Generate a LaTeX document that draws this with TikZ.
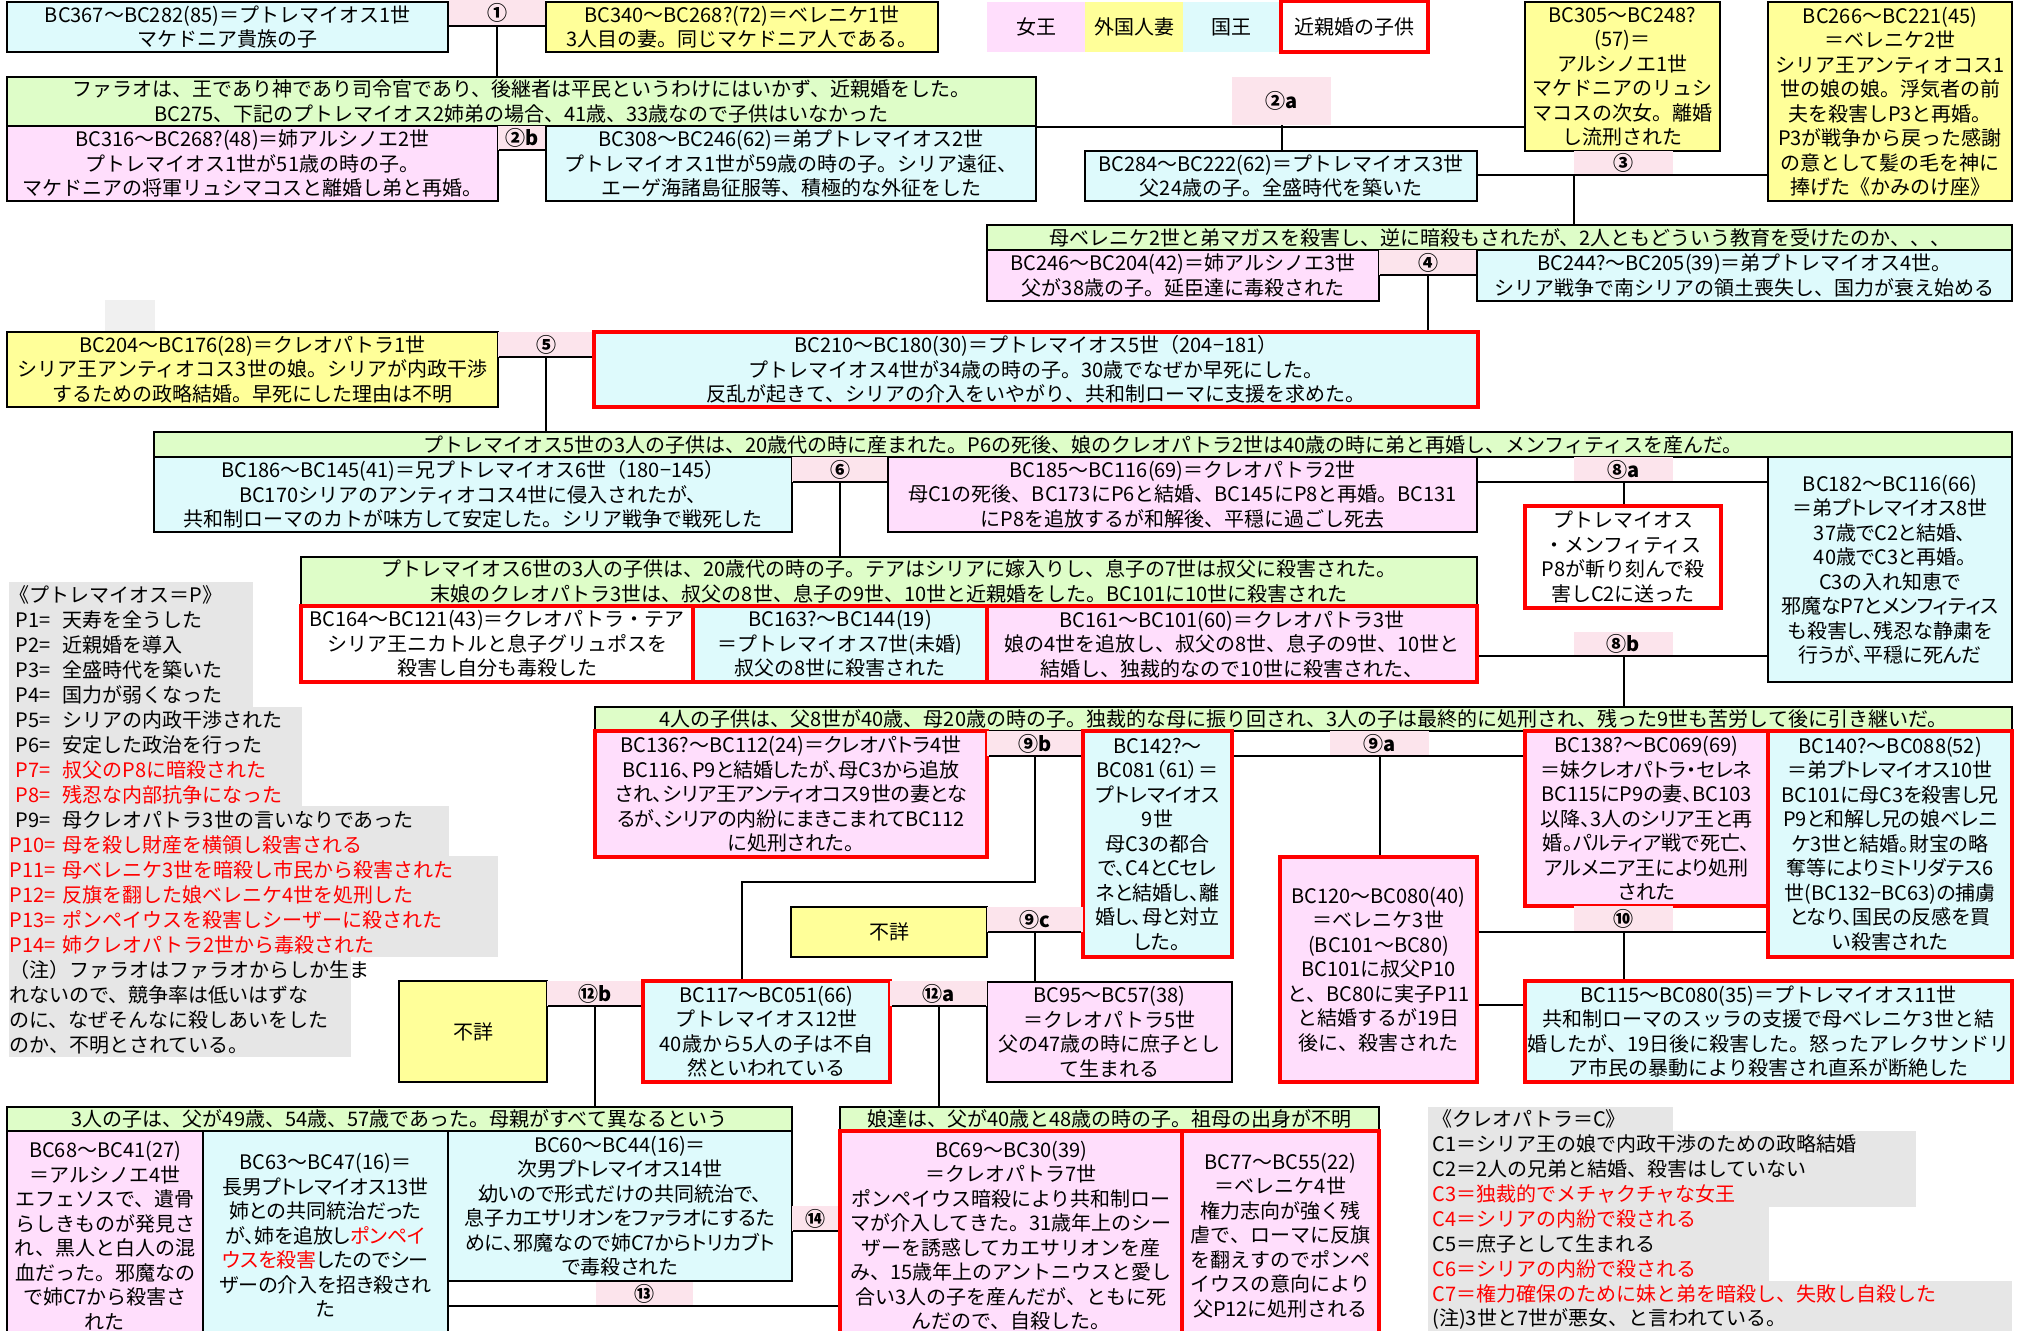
\documentclass[tikz,border=0pt]{standalone}
\usepackage{fontspec}
\setmainfont{Noto Sans CJK JP}
\newfontfamily\pf{Noto Sans CJK JP}[RawFeature=+palt]
\usetikzlibrary{calc}
\definecolor{cy}{RGB}{222,250,252}
\definecolor{pk}{RGB}{255,222,252}
\definecolor{yl}{RGB}{255,255,153}
\definecolor{gr}{RGB}{222,253,200}
\definecolor{lb}{RGB}{252,228,236}
\definecolor{gy}{RGB}{230,230,230}
\definecolor{gl}{RGB}{240,240,240}
\definecolor{rd}{RGB}{255,0,0}
\tikzset{
 base/.style={inner sep=0pt, align=center, font=\fontsize{10}{12.25}\selectfont},
 kbox/.style={base, draw=black, line width=1pt, fill=cy},
 qbox/.style={base, draw=black, line width=1pt, fill=pk},
 wbox/.style={base, draw=black, line width=1pt, fill=yl},
 gbox/.style={base, draw=black, line width=1pt, fill=gr},
 ebox/.style={base, draw=black, line width=1pt, fill=white},
 inc/.style={draw=rd, line width=2pt},
 tight/.style={font=\pf\fontsize{10}{12.25}\selectfont},
 lab/.style={base, fill=lb, font=\bfseries\fontsize{10}{12}\selectfont},
 conn/.style={line width=1pt, draw=black},
 leg/.style={inner sep=0pt, anchor=west, font=\fontsize{10}{12}\selectfont},
}
\newcommand\bx[7]{\node[#2, minimum width={(#5-#3)*0.5pt}, minimum height={(#6-#4)*0.5pt}] (#1) at ({(#3+#5)/2},{(#4+#6)/2}) {#7};}
\begin{document}
\begin{tikzpicture}[x=0.5pt,y=-0.5pt]
\useasboundingbox (0,0) rectangle (2027,1330);
\clip (0,0) rectangle (2027,1330);
% legend backgrounds
\fill[gl] (105,300) rectangle (155,332);
\fill[gy] (9,582) rectangle (253,707);
\fill[gy] (9,707) rectangle (302,806);
\fill[gy] (9,806) rectangle (449,856);
\fill[gy] (9,856) rectangle (498,957);
\fill[gy] (9,957) rectangle (351,1057);
\fill[gy] (1428,1107) rectangle (1673,1131);
\fill[gy] (1428,1131) rectangle (1916,1207);
\fill[gy] (1428,1207) rectangle (1769,1281);
\fill[gy] (1428,1281) rectangle (2012,1335);
% colour legend
\bx{LQ}{base,fill=pk}{987}{2}{1085}{52}{女王}
\bx{LW}{base,fill=yl}{1085}{2}{1183}{52}{外国人妻}
\bx{LK}{base,fill=cy}{1183}{2}{1279}{52}{国王}
\bx{LI}{ebox,inc}{1281}{1}{1428}{52}{近親婚の子供}
% generation 1
\bx{A1}{kbox}{7}{2}{448}{52}{BC367～BC282(85)＝プトレマイオス1世\\マケドニア貴族の子}
\bx{L1}{lab}{449}{0}{545}{26}{①}
\bx{B1}{wbox}{546}{2}{938}{52}{BC340～BC268?(72)＝ベレニケ1世\\3人目の妻。同じマケドニア人である。}
% generation 2
\bx{G1}{gbox}{7}{77}{1036}{126}{ファラオは、王であり神であり司令官であり、後継者は平民というわけにはいかず、近親婚をした。\\BC275、下記のプトレマイオス2姉弟の場合、41歳、33歳なので子供はいなかった}
\bx{Ars2}{qbox}{7}{126}{498}{201}{BC316～BC268?(48)＝姉アルシノエ2世\\プトレマイオス1世が51歳の時の子。\\マケドニアの将軍リュシマコスと離婚し弟と再婚。}
\bx{L2b}{lab}{498}{126}{546}{150}{②b}
\bx{P2}{kbox}{546}{126}{1036}{201}{BC308～BC246(62)＝弟プトレマイオス2世\\プトレマイオス1世が59歳の時の子。シリア遠征、\\エーゲ海諸島征服等、積極的な外征をした}
\bx{L2a}{lab}{1232}{77}{1331}{125}{②a}
\bx{Ars1}{wbox}{1525}{2}{1720}{151}{BC305～BC248?\\(57)＝\\アルシノエ1世\\マケドニアのリュシ\\マコスの次女。離婚\\し流刑された}
% generation 3
\bx{P3}{kbox}{1085}{151}{1477}{201}{BC284～BC222(62)＝プトレマイオス3世\\父24歳の子。全盛時代を築いた}
\bx{L3}{lab}{1574}{151}{1673}{175}{③}
\bx{Ber2}{wbox}{1768}{2}{2012}{201}{BC266～BC221(45)\\＝ベレニケ2世\\シリア王アンティオコス1\\世の娘の娘。浮気者の前\\夫を殺害しP3と再婚。\\P3が戦争から戻った感謝\\の意として髪の毛を神に\\捧げた《かみのけ座》}
% generation 4
\bx{G2}{gbox}{987}{225}{2012}{250}{母ベレニケ2世と弟マガスを殺害し、逆に暗殺もされたが、2人ともどういう教育を受けたのか、、、}
\bx{Ars3}{qbox}{987}{250}{1379}{301}{BC246～BC204(42)＝姉アルシノエ3世\\父が38歳の子。延臣達に毒殺された}
\bx{L4}{lab}{1379}{250}{1477}{275}{④}
\bx{P4}{kbox}{1477}{250}{2012}{301}{BC244?～BC205(39)＝弟プトレマイオス4世。\\シリア戦争で南シリアの領土喪失し、国力が衰え始める}
% generation 5
\bx{Cle1}{wbox}{7}{332}{498}{407}{BC204～BC176(28)＝クレオパトラ1世\\シリア王アンティオコス3世の娘。シリアが内政干渉\\するための政略結婚。早死にした理由は不明}
\bx{L5}{lab}{498}{332}{594}{357}{⑤}
\bx{P5}{kbox,inc}{594}{332}{1478}{407}{BC210～BC180(30)＝プトレマイオス5世（204−181）\\プトレマイオス4世が34歳の時の子。30歳でなぜか早死にした。\\反乱が起きて、シリアの介入をいやがり、共和制ローマに支援を求めた。}
% generation 6
\bx{G3}{gbox}{154}{432}{2012}{457}{プトレマイオス5世の3人の子供は、20歳代の時に産まれた。P6の死後、娘のクレオパトラ2世は40歳の時に弟と再婚し、メンフィティスを産んだ。}
\bx{P6}{kbox}{154}{457}{792}{532}{BC186～BC145(41)＝兄プトレマイオス6世（180−145）\\BC170シリアのアンティオコス4世に侵入されたが、\\共和制ローマのカトが味方して安定した。シリア戦争で戦死した}
\bx{L6}{lab}{792}{457}{888}{482}{⑥}
\bx{C2}{qbox}{888}{457}{1477}{532}{BC185～BC116(69)＝クレオパトラ2世\\母C1の死後、BC173にP6と結婚、BC145にP8と再婚。BC131\\にP8を追放するが和解後、平穏に過ごし死去}
\bx{L8a}{lab}{1574}{457}{1673}{482}{⑧a}
\bx{Mem}{ebox,inc}{1525}{506}{1721}{608}{プトレマイオス\\・メンフィティス\\P8が斬り刻んで殺\\害しC2に送った}
\bx{P8}{kbox,tight}{1768}{457}{2012}{682}{BC182～BC116(66)\\＝弟プトレマイオス8世\\37歳でC2と結婚、\\40歳でC3と再婚。\\C3の入れ知恵で\\邪魔なP7とメンフィティス\\も殺害し、残忍な静粛を\\行うが、平穏に死んだ}
\bx{L8b}{lab}{1574}{632}{1673}{656}{⑧b}
% generation 7
\bx{G4}{gbox}{301}{557}{1477}{606}{プトレマイオス6世の3人の子供は、20歳代の時の子。テアはシリアに嫁入りし、息子の7世は叔父に殺害された。\\末娘のクレオパトラ3世は、叔父の8世、息子の9世、10世と近親婚をした。BC101に10世に殺害された}
\bx{Thea}{ebox,inc}{301}{606}{693}{682}{BC164～BC121(43)＝クレオパトラ・テア\\シリア王ニカトルと息子グリュポスを\\殺害し自分も毒殺した}
\bx{P7}{kbox,inc}{693}{606}{987}{682}{BC163?～BC144(19)\\＝プトレマイオス7世(未婚)\\叔父の8世に殺害された}
\bx{C3}{qbox,inc}{987}{606}{1477}{682}{BC161～BC101(60)＝クレオパトラ3世\\娘の4世を追放し、叔父の8世、息子の9世、10世と\\結婚し、独裁的なので10世に殺害された、}
% generation 8
\bx{G5}{gbox}{595}{707}{2012}{731}{4人の子供は、父8世が40歳、母20歳の時の子。独裁的な母に振り回され、3人の子は最終的に処刑され、残った9世も苦労して後に引き継いだ。}
\bx{C4}{qbox,inc,tight}{595}{731}{987}{857}{BC136?～BC112(24)＝クレオパトラ4世\\BC116、P9と結婚したが、母C3から追放\\され、シリア王アンティオコス9世の妻とな\\るが、シリアの内紛にまきこまれてBC112\\に処刑された。}
\bx{L9b}{lab}{987}{731}{1083}{756}{⑨b}
\bx{P9}{kbox,inc,tight}{1083}{731}{1232}{957}{BC142?～\\BC081（61）＝\\プトレマイオス\\9世\\母C3の都合\\で、C4とCセレ\\ネと結婚し、離\\婚し、母と対立\\した。}
\bx{L9a}{lab}{1330}{731}{1429}{756}{⑨a}
\bx{Sel}{qbox,inc,tight}{1525}{731}{1768}{906}{BC138?～BC069(69)\\＝妹クレオパトラ・セレネ\\BC115にP9の妻、BC103\\以降、3人のシリア王と再\\婚。パルティア戦で死亡、\\アルメニア王により処刑\\された}
\bx{P10}{kbox,inc,tight}{1768}{731}{2012}{957}{BC140?～BC088(52)\\＝弟プトレマイオス10世\\BC101に母C3を殺害し兄\\P9と和解し兄の娘ベレニ\\ケ3世と結婚。財宝の略\\奪等によりミトリダテス6\\世(BC132−BC63)の捕虜\\となり、国民の反感を買\\い殺害された}
\bx{L10}{lab}{1574}{906}{1673}{932}{⑩}
\bx{Ber3}{qbox,inc}{1280}{857}{1477}{1082}{BC120～BC080(40)\\＝ベレニケ3世\\(BC101～BC80)\\BC101に叔父P10\\と、BC80に実子P11\\と結婚するが19日\\後に、殺害された}
\bx{P11}{kbox,inc}{1525}{981}{2012}{1082}{BC115～BC080(35)＝プトレマイオス11世\\共和制ローマのスッラの支援で母ベレニケ3世と結\\婚したが、19日後に殺害した。怒ったアレクサンドリ\\ア市民の暴動により殺害され直系が断絶した}
\bx{U2}{wbox}{791}{907}{987}{957}{不詳}
\bx{L9c}{lab}{987}{907}{1083}{932}{⑨c}
\bx{C5}{qbox}{987}{982}{1232}{1082}{BC95～BC57(38)\\＝クレオパトラ5世\\父の47歳の時に庶子とし\\て生まれる}
% generation 9
\bx{U1}{wbox}{399}{981}{547}{1082}{不詳}
\bx{L12b}{lab}{547}{981}{643}{1006}{⑫b}
\bx{P12}{kbox,inc}{643}{981}{890}{1082}{BC117～BC051(66)\\プトレマイオス12世\\40歳から5人の子は不自\\然といわれている}
\bx{L12a}{lab}{890}{981}{987}{1006}{⑫a}
% generation 10
\bx{G6}{gbox}{7}{1107}{792}{1131}{3人の子は、父が49歳、54歳、57歳であった。母親がすべて異なるという}
\bx{Ars4}{qbox}{7}{1131}{203}{1340}{BC68～BC41(27)\\＝アルシノエ4世\\エフェソスで、遺骨\\らしきものが発見さ\\れ、黒人と白人の混\\血だった。邪魔なの\\で姉C7から殺害さ\\れた}
\bx{P13}{kbox,tight}{203}{1131}{448}{1340}{BC63～BC47(16)＝\\長男プトレマイオス13世\\姉との共同統治だった\\が、姉を追放し\textcolor{rd}{ポンペイ}\\\textcolor{rd}{ウスを殺害}したのでシー\\ザーの介入を招き殺され\\た}
\bx{P14}{kbox,tight}{448}{1131}{792}{1281}{BC60～BC44(16)＝\\次男プトレマイオス14世\\幼いので形式だけの共同統治で、\\息子カエサリオンをファラオにするた\\めに、邪魔なので姉C7からトリカブト\\で毒殺された}
\bx{L13}{lab}{596}{1282}{693}{1306}{⑬}
\bx{L14}{lab}{792}{1206}{838}{1231}{⑭}
\bx{G7}{gbox}{840}{1107}{1379}{1131}{娘達は、父が40歳と48歳の時の子。祖母の出身が不明}
\bx{C7}{qbox,inc}{840}{1131}{1182}{1340}{BC69～BC30(39)\\＝クレオパトラ7世\\ポンペイウス暗殺により共和制ロー\\マが介入してきた。31歳年上のシー\\ザーを誘惑してカエサリオンを産\\み、15歳年上のアントニウスと愛し\\合い3人の子を産んだが、ともに死\\んだので、自殺した。}
\bx{Ber4}{qbox,inc}{1182}{1131}{1379}{1340}{BC77～BC55(22)\\＝ベレニケ4世\\権力志向が強く残\\虐で、ローマに反旗\\を翻えすのでポンペ\\イウスの意向により\\父P12に処刑される}
% connectors
\draw[conn] (A1.east |- L1.south) -- (B1.west |- L1.south);
\draw[conn] (L1.south) -- (L1.south |- G1.north);
\draw[conn] (Ars2.east |- L2b.south) -- (P2.west |- L2b.south);
\draw[conn] (G1.south east) -- (G1.south east -| Ars1.west);
\draw[conn] (L2a.south) -- (L2a.south |- P3.north);
\draw[conn] (P3.east |- L3.south) -- (Ber2.west |- L3.south);
\draw[conn] (L3.south west) -- (L3.south west |- G2.north);
\draw[conn] (Ars3.east |- L4.south) -- (P4.west |- L4.south);
\draw[conn] (L4.south) -- (L4.south |- P5.north);
\draw[conn] (Cle1.east |- L5.south) -- (P5.west |- L5.south);
\draw[conn] (L5.south) -- (L5.south |- G3.north);
\draw[conn] (P6.east |- L6.south) -- (C2.west |- L6.south);
\draw[conn] (L6.south) -- (L6.south |- G4.north);
\draw[conn] (C2.east |- L8a.south) -- (P8.west |- L8a.south);
\draw[conn] (L8a.south) -- (L8a.south |- Mem.north);
\draw[conn] (C3.east |- L8b.south) -- (P8.west |- L8b.south);
\draw[conn] (L8b.south) -- (L8b.south |- G5.north);
\draw[conn] (C4.east |- L9b.south) -- (P9.west |- L9b.south);
\coordinate (k9b) at (742,882);
\draw[conn] (L9b.south) |- (k9b) -- (k9b |- P12.north);
\draw[conn] (P9.east |- L9a.south) -- (Sel.west |- L9a.south);
\draw[conn] (L9a.south) -- (L9a.south |- Ber3.north);
\draw[conn] (U2.east |- L9c.south) -- (P9.west |- L9c.south);
\draw[conn] (L9c.south) -- (L9c.south |- C5.north);
\draw[conn] (Ber3.east |- L10.south) -- (P10.west |- L10.south);
\draw[conn] (L10.south) -- (L10.south |- P11.north);
\coordinate (k11) at ($(P11.north west)!0.25!(P11.south west)$);
\draw[conn] (Ber3.east |- k11) -- (k11);
\draw[conn] (U1.east |- L12b.south) -- (P12.west |- L12b.south);
\draw[conn] (L12b.south) -- (L12b.south |- G6.north);
\draw[conn] (P12.east |- L12a.south) -- (C5.west |- L12a.south);
\draw[conn] (L12a.south) -- (L12a.south |- G7.north);
\draw[conn] (P13.east |- L13.south) -- (C7.west |- L13.south);
\draw[conn] (P14.east |- L14.south) -- (C7.west |- L14.south);
% P legend
\node[leg] (pt) at (9,595) {《プトレマイオス＝P》};
\node[leg] (p1) at (15,620) {\makebox[23.5pt][l]{P1=}天寿を全うした};
\node[leg] (p2) at (15,645) {\makebox[23.5pt][l]{P2=}近親婚を導入};
\node[leg] (p3) at (15,670) {\makebox[23.5pt][l]{P3=}全盛時代を築いた};
\node[leg] (p4) at (15,695) {\makebox[23.5pt][l]{P4=}国力が弱くなった};
\node[leg] (p5) at (15,720) {\makebox[23.5pt][l]{P5=}シリアの内政干渉された};
\node[leg] (p6) at (15,745) {\makebox[23.5pt][l]{P6=}安定した政治を行った};
\node[leg,text=rd] (p7) at (15,770) {\makebox[23.5pt][l]{P7=}叔父のP8に暗殺された};
\node[leg,text=rd] (p8) at (15,795) {\makebox[23.5pt][l]{P8=}残忍な内部抗争になった};
\node[leg] (p9) at (15,820) {\makebox[23.5pt][l]{P9=}母クレオパトラ3世の言いなりであった};
\node[leg,text=rd] (p10) at (9,845) {\makebox[26.5pt][l]{P10=}母を殺し財産を横領し殺害される};
\node[leg,text=rd] (p11) at (9,870) {\makebox[26.5pt][l]{P11=}母ベレニケ3世を暗殺し市民から殺害された};
\node[leg,text=rd] (p12) at (9,895) {\makebox[26.5pt][l]{P12=}反旗を翻した娘ベレニケ4世を処刑した};
\node[leg,text=rd] (p13) at (9,920) {\makebox[26.5pt][l]{P13=}ポンペイウスを殺害しシーザーに殺された};
\node[leg,text=rd] (p14) at (9,945) {\makebox[26.5pt][l]{P14=}姉クレオパトラ2世から毒殺された};
\node[leg] (pn1) at (9,970) {（注）ファラオはファラオからしか生ま};
\node[leg] (pn2) at (9,995) {れないので、競争率は低いはずな};
\node[leg] (pn3) at (9,1020) {のに、なぜそんなに殺しあいをした};
\node[leg] (pn4) at (9,1045) {のか、不明とされている。};
% C legend
\node[leg] (ct) at (1432,1119) {《クレオパトラ＝C》};
\node[leg] (c1) at (1432,1144) {C1＝シリア王の娘で内政干渉のための政略結婚};
\node[leg] (c2) at (1432,1169) {C2＝2人の兄弟と結婚、殺害はしていない};
\node[leg,text=rd] (c3) at (1432,1194) {C3＝独裁的でメチャクチャな女王};
\node[leg,text=rd] (c4) at (1432,1219) {C4＝シリアの内紛で殺される};
\node[leg] (c5) at (1432,1244) {C5＝庶子として生まれる};
\node[leg,text=rd] (c6) at (1432,1269) {C6＝シリアの内紛で殺される};
\node[leg,text=rd] (c7) at (1432,1294) {C7＝権力確保のために妹と弟を暗殺し、失敗し自殺した};
\node[leg] (cn) at (1432,1319) {(注)3世と7世が悪女、と言われている。};
\end{tikzpicture}
\end{document}
